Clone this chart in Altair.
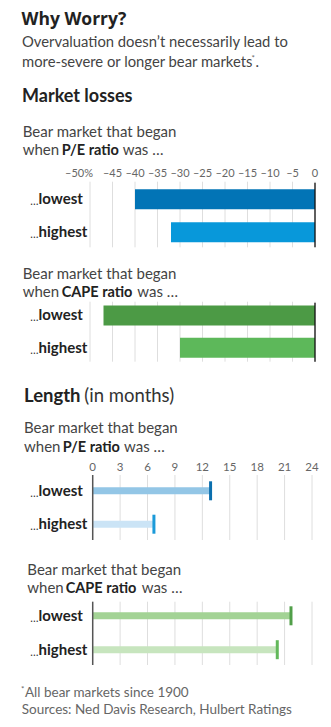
import altair as alt
import pandas as pd

# ---------------- data ----------------
cats = ["lowest", "highest"]
loss_pe = [-40, -32]
loss_cape = [-47, -30]
len_pe = [12.9, 6.7]
len_cape = [21.7, 20.2]

loss_grid = [-50, -45, -40, -35, -30, -25, -20, -15, -10, -5, 0]
loss_ticks = [-45, -40, -35, -30, -25, -20, -15, -10, -5, 0]
loss_tick_labels = ["–45", "–40", "–35", "–30", "–25", "–20", "–15", "–10", "–5", "0"]
loss_first_tick = [-50]
loss_first_label = ["–50%"]
len_ticks = [0, 3, 6, 9, 12, 15, 18, 21, 24]
len_tick_labels = ["0", "3", "6", "9", "12", "15", "18", "21", "24"]

FONT = "Lato"
TFONT = "Lato"
TSIZE = 11
GRID = "#dedede"
TICKC = "#666"


def yscale(c0, c1):
    step = c1 - c0
    return alt.Scale(domain=cats, range=[c0 - step / 2, c1 + step / 2],
                     paddingInner=0, paddingOuter=0)


def cat_labels(df, ys):
    words = alt.Chart(df).mark_text(font=FONT, fontSize=15, fontWeight="bold", color="#222",
                                    align="left", baseline="middle").encode(
        x=alt.value(38.5), y=alt.Y("cat:N", scale=ys, axis=None, sort=cats), text="cat:N")
    dots = alt.Chart(df).mark_text(font=FONT, fontSize=11, color="#333", text="…",
                                   align="right", baseline="middle", dy=3).encode(
        x=alt.value(38.5), y=alt.Y("cat:N", scale=ys, axis=None, sort=cats))
    return [words, dots]


def loss_panel(vals, colors, c0, c1, gtop, gbot, labels_y=None):
    df = pd.DataFrame({"cat": cats, "value": vals})
    xs = alt.Scale(domain=[-50, 0], range=[90, 315], nice=False, zero=False)
    ys = yscale(c0, c1)
    layers = []
    layers.append(
        alt.Chart(pd.DataFrame({"t": loss_grid})).mark_rule(color=GRID, strokeWidth=1).encode(
            x=alt.X("t:Q", scale=xs, axis=None), y=alt.value(gtop), y2=alt.value(gbot)))
    layers.append(
        alt.Chart(df).mark_bar(size=20).encode(
            x=alt.X("value:Q", scale=xs, axis=None), x2=alt.datum(0),
            y=alt.Y("cat:N", scale=ys, axis=None, sort=cats),
            color=alt.Color("cat:N", scale=alt.Scale(domain=cats, range=colors), legend=None)))
    layers.append(
        alt.Chart(pd.DataFrame({"z": [0]})).mark_rule(color="#111", strokeWidth=1.3).encode(
            x=alt.X("z:Q", scale=xs, axis=None), y=alt.value(gtop + 1), y2=alt.value(gbot)))
    layers += cat_labels(df, ys)
    if labels_y is not None:
        layers.append(
            alt.Chart(pd.DataFrame({"t": loss_ticks, "lab": loss_tick_labels})).mark_text(
                font=TFONT, fontSize=TSIZE, color=TICKC, align="center", baseline="alphabetic").encode(
                x=alt.X("t:Q", scale=xs, axis=None), y=alt.value(labels_y), text="lab:N"))
        layers.append(
            alt.Chart(pd.DataFrame({"t": loss_first_tick, "lab": loss_first_label})).mark_text(
                font=TFONT, fontSize=TSIZE, color=TICKC, align="right", baseline="alphabetic", dx=3).encode(
                x=alt.X("t:Q", scale=xs, axis=None), y=alt.value(labels_y), text="lab:N"))
    return alt.layer(*layers)


def len_panel(vals, bar_colors, tick_colors, c0, c1, gtop, gbot, labels_y=None):
    df = pd.DataFrame({"cat": cats, "value": vals})
    xs = alt.Scale(domain=[0, 24], range=[92.7, 312], nice=False)
    ys = yscale(c0, c1)
    layers = []
    layers.append(
        alt.Chart(pd.DataFrame({"t": len_ticks})).mark_rule(color=GRID, strokeWidth=1).encode(
            x=alt.X("t:Q", scale=xs, axis=None), y=alt.value(gtop), y2=alt.value(gbot)))
    layers.append(
        alt.Chart(df).mark_bar(size=7).encode(
            x=alt.X("value:Q", scale=xs, axis=None), x2=alt.datum(0),
            y=alt.Y("cat:N", scale=ys, axis=None, sort=cats),
            color=alt.Color("cat:N", scale=alt.Scale(domain=cats, range=bar_colors), legend=None)))
    layers.append(
        alt.Chart(df).mark_tick(size=19, thickness=3, opacity=1).encode(
            x=alt.X("value:Q", scale=xs, axis=None),
            y=alt.Y("cat:N", scale=ys, axis=None, sort=cats),
            color=alt.Color("cat:N", scale=alt.Scale(domain=cats, range=tick_colors), legend=None)))
    layers.append(
        alt.Chart(pd.DataFrame({"z": [0]})).mark_rule(color="#555", strokeWidth=1.5).encode(
            x=alt.X("z:Q", scale=xs, axis=None), y=alt.value(gtop), y2=alt.value(gbot)))
    layers += cat_labels(df, ys)
    if labels_y is not None:
        layers.append(
            alt.Chart(pd.DataFrame({"t": len_ticks, "lab": len_tick_labels})).mark_text(
                font=TFONT, fontSize=TSIZE + 0.5, color=TICKC, align="center", baseline="alphabetic").encode(
                x=alt.X("t:Q", scale=xs, axis=None), y=alt.value(labels_y), text="lab:N"))
    return alt.layer(*layers).resolve_scale(color="independent")


def txt(s, x, y, size=15, weight="normal", color="#444", font=FONT):
    return alt.Chart(pd.DataFrame({"s": [s]})).mark_text(
        font=font, fontSize=size, fontWeight=weight, color=color,
        align="left", baseline="alphabetic").encode(
        x=alt.value(x), y=alt.value(y), text="s:N")


texts = [
    txt("Why Worry?", 21.5, 25, 17.5, "bold", "#222", "Open Sans"),
    txt("Overvaluation doesn’t necessarily lead to", 22, 46.7, 14.8),
    txt("more-severe or longer bear markets", 22, 66.7, 14.8),
    txt("*", 251.5, 61, 8, "normal", "#666"),
    txt(".", 255.5, 66.7, 14.8),
    txt("Market losses", 22, 101.7, 18, "bold", "#222"),
    # losses P/E
    txt("Bear market that began", 22.7, 136.7),
    txt("when", 22.7, 155),
    txt("P/E ratio", 61.7, 155, 14.5, "bold", "#222"),
    txt("was …", 122.7, 155),
    # losses CAPE
    txt("Bear market that began", 22.7, 279.3),
    txt("when", 22.7, 296.7),
    txt("CAPE ratio", 61.7, 296.7, 14.5, "bold", "#222"),
    txt("was …", 137.3, 296.7),
    # length
    txt("Length", 24, 401.7, 18.5, "bold", "#222"),
    txt("(in months)", 84.3, 401.7, 18.5, "normal", "#333"),
    txt("Bear market that began", 24, 433),
    txt("when", 24, 451.7),
    txt("P/E ratio", 62.7, 451.7, 14.5, "bold", "#222"),
    txt("was …", 124, 451.7),
    txt("Bear market that began", 27.3, 575),
    txt("when", 27.3, 593.3),
    txt("CAPE ratio", 65.7, 593.3, 14.5, "bold", "#222"),
    txt("was …", 141.7, 593.3),
    # footnote
    txt("*", 21, 692, 8, "normal", "#666"),
    txt("All bear markets since 1900", 25, 696.7, 13.5, "normal", "#666"),
    txt("Sources: Ned Davis Research, Hulbert Ratings", 21.7, 714, 13.5, "normal", "#666"),
]

panels = [
    loss_panel(loss_pe, ["#0274b6", "#0898da"], 199.3, 232.2, 181.7, 247.3, labels_y=177.3),
    loss_panel(loss_cape, ["#4c9a45", "#5db85a"], 315.4, 347.7, 301.7, 361.7),
    len_panel(len_pe, ["#93c6e6", "#cbe4f6"], ["#0b6fae", "#1a9ad9"], 490.8, 524.2, 475, 540, labels_y=470.5),
    len_panel(len_cape, ["#a3d395", "#c7e5be"], ["#519f49", "#62b85a"], 615.8, 649.7, 601.7, 665),
]

chart = alt.layer(*panels, *texts).resolve_scale(
    x="independent", y="independent", color="independent"
).properties(
    width=331, height=727, padding=0, autosize=alt.AutoSizeParams(type="none"),
    background="#ffffff",
).configure_view(stroke=None)

chart.save("out.html", embed_options={"renderer": "svg", "actions": False})
